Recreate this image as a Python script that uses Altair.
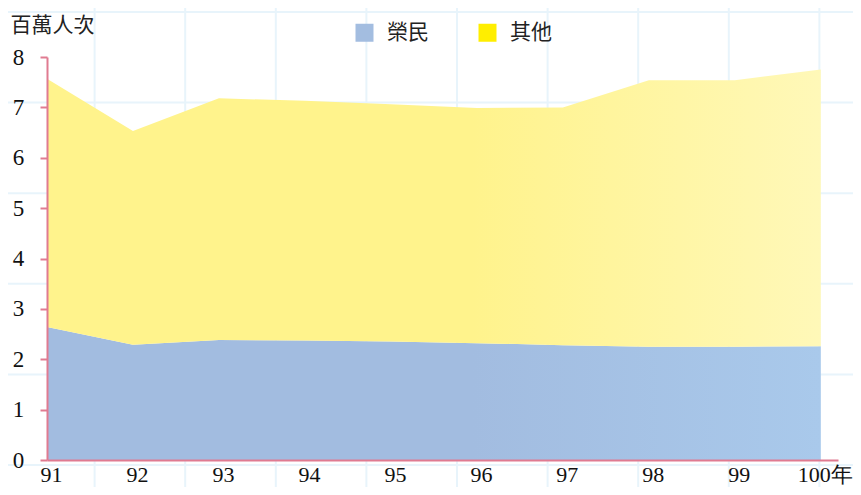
import altair as alt
import pandas as pd
import numpy as np

# ---- data ----
years = [91, 92, 93, 94, 95, 96, 97, 98, 99, 100]
veterans = [2.64, 2.29, 2.38, 2.37, 2.35, 2.32, 2.28, 2.25, 2.25, 2.26]
others = [4.93, 4.24, 4.80, 4.76, 4.71, 4.67, 4.72, 5.29, 5.29, 5.49]
series_names = ["榮民", "其他"]
y_ticks = [0, 1, 2, 3, 4, 5, 6, 7, 8]

df = pd.DataFrame({"year": years, "vet": veterans, "oth": others})
df["total"] = df["vet"] + df["oth"]

legend_df = pd.DataFrame({"series": series_names, "year": [years[0]] * 2, "v": [0, 0]})

# ---- styling ----
W, H = 791, 403
AXIS_COLOR = "#e07b91"
GRID_COLOR = "#e8f4fb"
SERIF = "Liberation Serif, Times New Roman, serif"
SANS = "Noto Sans CJK TC, sans-serif"
legend_colors = ["#a3bde0", "#ffee00"]

blue_grad = alt.Gradient(
    gradient="linear",
    stops=[
        alt.GradientStop(offset=0, color="#a2bce0"),
        alt.GradientStop(offset=0.55, color="#a2bce0"),
        alt.GradientStop(offset=1, color="#a9c9eb"),
    ],
    x1=0, x2=1, y1=0, y2=0,
)
yellow_grad = alt.Gradient(
    gradient="linear",
    stops=[
        alt.GradientStop(offset=0, color="#fff38c"),
        alt.GradientStop(offset=0.55, color="#fff38c"),
        alt.GradientStop(offset=1, color="#fff8b8"),
    ],
    x1=0, x2=1, y1=0, y2=0,
)

# decorative page grid (pixel positions relative to the plot origin)
grid_x = pd.DataFrame({"gx": np.arange(-43, W + 10, 90.6)})
grid_y = pd.DataFrame({"gy": np.arange(-45, H + 20, 90.6)})

vgrid = alt.Chart(grid_x).mark_rule(color=GRID_COLOR, strokeWidth=2).encode(
    x=alt.X("gx:Q", scale=None, axis=None),
    y=alt.value(-57),
    y2=alt.value(H + 27),
)
hgrid = alt.Chart(grid_y).mark_rule(color=GRID_COLOR, strokeWidth=2).encode(
    y=alt.Y("gy:Q", scale=None, axis=None),
    x=alt.value(-47),
    x2=alt.value(W + 15),
)

xscale = alt.Scale(domain=[91, 100.2], nice=False, zero=False)
yscale = alt.Scale(domain=[0, 8], nice=False)

xaxis = alt.Axis(
    values=years, title=None, ticks=False, grid=False, format="d",
    domainColor=AXIS_COLOR, domainWidth=2,
    labelFont=SERIF, labelFontSize=22, labelColor="#111",
    labelPadding=4, labelOffset=4, labelFlush=False, labelOverlap=False,
    labelExpr="datum.value == 100 ? '100年' : datum.label",
    zindex=1,
)
yaxis = alt.Axis(
    values=y_ticks, title="百萬人次", titleAngle=0, titleAlign="left",
    titleBaseline="alphabetic", titleX=-37, titleY=-26, format="d",
    titleFont=SANS, titleFontSize=21, titleFontWeight="normal", titleColor="#222",
    grid=False, domainColor=AXIS_COLOR, domainWidth=2,
    tickColor=AXIS_COLOR, tickSize=7, tickWidth=2,
    labelAlign="center", labelBaseline="middle", labelPadding=22,
    labelFont=SERIF, labelFontSize=23, labelColor="#111",
    zindex=1,
)

bottom = alt.Chart(df).mark_area(fill=blue_grad).encode(
    x=alt.X("year:Q", scale=xscale, axis=xaxis),
    y=alt.Y("vet:Q", scale=yscale, axis=yaxis),
)
top = alt.Chart(df).mark_area(fill=yellow_grad).encode(
    x=alt.X("year:Q", scale=xscale),
    y=alt.Y("total:Q", scale=yscale),
    y2="vet:Q",
)
legend_layer = alt.Chart(legend_df).mark_square(opacity=0).encode(
    x=alt.X("year:Q", scale=xscale),
    y=alt.Y("v:Q", scale=yscale),
    color=alt.Color(
        "series:N",
        scale=alt.Scale(domain=series_names, range=legend_colors),
        legend=alt.Legend(
            orient="none", legendX=307, legendY=-35, direction="horizontal",
            title=None, symbolType="square", symbolSize=324, symbolOpacity=1,
            symbolStrokeWidth=0, labelFont=SANS, labelFontSize=21,
            labelColor="#222", labelOffset=12, columnPadding=48,
        ),
    ),
)

chart = alt.layer(vgrid, hgrid, bottom, top, legend_layer).properties(
    width=W, height=H,
    autosize=alt.AutoSizeParams(type="none"),
    padding={"left": 39, "top": 49, "right": 15, "bottom": 27},
    background="white",
).configure_view(stroke=None)

chart.save("out.html", embed_options={"renderer": "svg", "actions": False})
